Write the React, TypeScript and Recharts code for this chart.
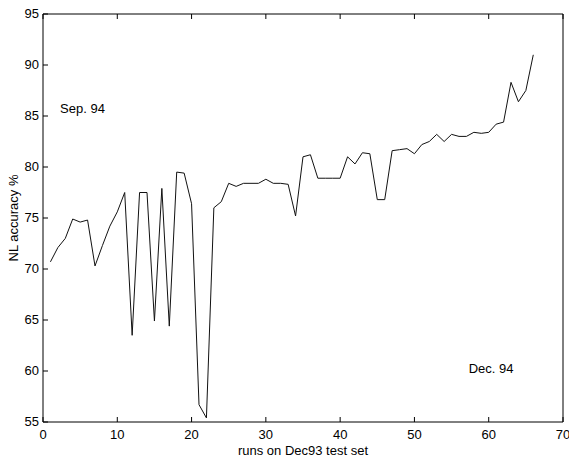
import React from 'react';
import { LineChart, Line, XAxis, YAxis, ReferenceDot } from 'recharts';

// runs 1..66, NL accuracy in %
const runs = Array.from({ length: 66 }, (_, i) => i + 1);
const accuracy = [
  70.7, 72.1, 73.0, 74.9, 74.6, 74.8, 70.3, 72.3, 74.2, 75.6,
  77.5, 63.5, 77.5, 77.5, 64.9, 77.9, 64.4, 79.5, 79.4, 76.4,
  56.7, 55.4, 76.0, 76.6, 78.4, 78.1, 78.4, 78.4, 78.4, 78.8,
  78.4, 78.4, 78.3, 75.2, 81.0, 81.2, 78.9, 78.9, 78.9, 78.9,
  81.0, 80.3, 81.4, 81.3, 76.8, 76.8, 81.6, 81.7, 81.8, 81.3,
  82.2, 82.5, 83.2, 82.5, 83.2, 83.0, 83.0, 83.4, 83.3, 83.4,
  84.2, 84.4, 88.3, 86.4, 87.5, 91.0,
];

const xTicks = [0, 10, 20, 30, 40, 50, 60, 70];
const yTicks = [55, 60, 65, 70, 75, 80, 85, 90, 95];

const notes = [
  { label: 'Sep. 94', x: 2.3, y: 85.8 },
  { label: 'Dec. 94', x: 57.3, y: 60.3 },
];

const data = runs.map((r, i) => ({ run: r, acc: accuracy[i] }));

const FONT = 'Liberation Sans, Arial, Helvetica, sans-serif';
const TICK = 5;

const BottomTick = (props: any) => {
  const { x, y, payload } = props;
  return (
    <g>
      <line x1={x} y1={y} x2={x} y2={y - TICK} stroke="#000" strokeWidth={1} />
      <text x={x} y={y + 17} textAnchor="middle" fontSize={13} fontFamily={FONT} fill="#000">
        {payload.value}
      </text>
    </g>
  );
};

const TopTick = (props: any) => {
  const { x, y } = props;
  return <line x1={x} y1={y} x2={x} y2={y + TICK} stroke="#000" strokeWidth={1} />;
};

const LeftTick = (props: any) => {
  const { x, y, payload } = props;
  return (
    <g>
      <line x1={x} y1={y} x2={x + TICK} y2={y} stroke="#000" strokeWidth={1} />
      <text x={x - 4} y={y + 4} textAnchor="end" fontSize={13} fontFamily={FONT} fill="#000">
        {payload.value}
      </text>
    </g>
  );
};

const RightTick = (props: any) => {
  const { x, y } = props;
  return <line x1={x} y1={y} x2={x - TICK} y2={y} stroke="#000" strokeWidth={1} />;
};

const YLabel = (props: any) => {
  const { viewBox } = props;
  const cx = 17.5;
  const cy = viewBox.y + viewBox.height / 2;
  return (
    <text
      x={cx}
      y={cy}
      transform={`rotate(-90, ${cx}, ${cy})`}
      textAnchor="middle"
      fontSize={13}
      fontFamily={FONT}
      fill="#000"
    >
      NL accuracy %
    </text>
  );
};

const XLabel = (props: any) => {
  const { viewBox } = props;
  return (
    <text
      x={viewBox.x + viewBox.width / 2}
      y={455}
      textAnchor="middle"
      fontSize={13}
      fontFamily={FONT}
      fill="#000"
    >
      runs on Dec93 test set
    </text>
  );
};

const NoteLabel = (text: string) => (props: any) => {
  const { viewBox } = props;
  return (
    <text x={viewBox.x} y={viewBox.y + 5} textAnchor="start" fontSize={13} fontFamily={FONT} fill="#000">
      {text}
    </text>
  );
};

export default function App() {
  return (
    <div style={{ position: 'absolute', left: 0, top: 0, width: 569, height: 458, background: '#fff' }}>
      <LineChart width={569} height={458} data={data} margin={{ top: 13, right: 5, bottom: 0, left: 0 }}>
        <XAxis
          xAxisId="b"
          dataKey="run"
          type="number"
          domain={[0, 70]}
          ticks={xTicks}
          interval={0}
          height={36}
          tickSize={0}
          tickMargin={0}
          tickLine={false}
          axisLine={{ stroke: '#000' }}
          tick={<BottomTick />}
          label={<XLabel />}
        />
        <XAxis
          xAxisId="t"
          orientation="top"
          dataKey="run"
          type="number"
          domain={[0, 70]}
          ticks={xTicks}
          interval={0}
          height={1}
          tickSize={0}
          tickMargin={0}
          tickLine={false}
          axisLine={{ stroke: '#000' }}
          tick={<TopTick />}
        />
        <YAxis
          yAxisId="l"
          type="number"
          domain={[55, 95]}
          ticks={yTicks}
          interval={0}
          width={43}
          tickSize={0}
          tickMargin={0}
          tickLine={false}
          axisLine={{ stroke: '#000' }}
          tick={<LeftTick />}
          label={<YLabel />}
        />
        <YAxis
          yAxisId="r"
          orientation="right"
          type="number"
          domain={[55, 95]}
          ticks={yTicks}
          interval={0}
          width={1}
          tickSize={0}
          tickMargin={0}
          tickLine={false}
          axisLine={{ stroke: '#000' }}
          tick={<RightTick />}
        />
        <Line
          xAxisId="b"
          yAxisId="l"
          type="linear"
          dataKey="acc"
          stroke="#111"
          strokeWidth={1}
          dot={false}
          isAnimationActive={false}
        />
        {notes.map((n) => (
          <ReferenceDot
            key={n.label}
            xAxisId="b"
            yAxisId="l"
            x={n.x}
            y={n.y}
            r={0}
            fill="none"
            stroke="none"
            label={NoteLabel(n.label)}
          />
        ))}
      </LineChart>
    </div>
  );
}
